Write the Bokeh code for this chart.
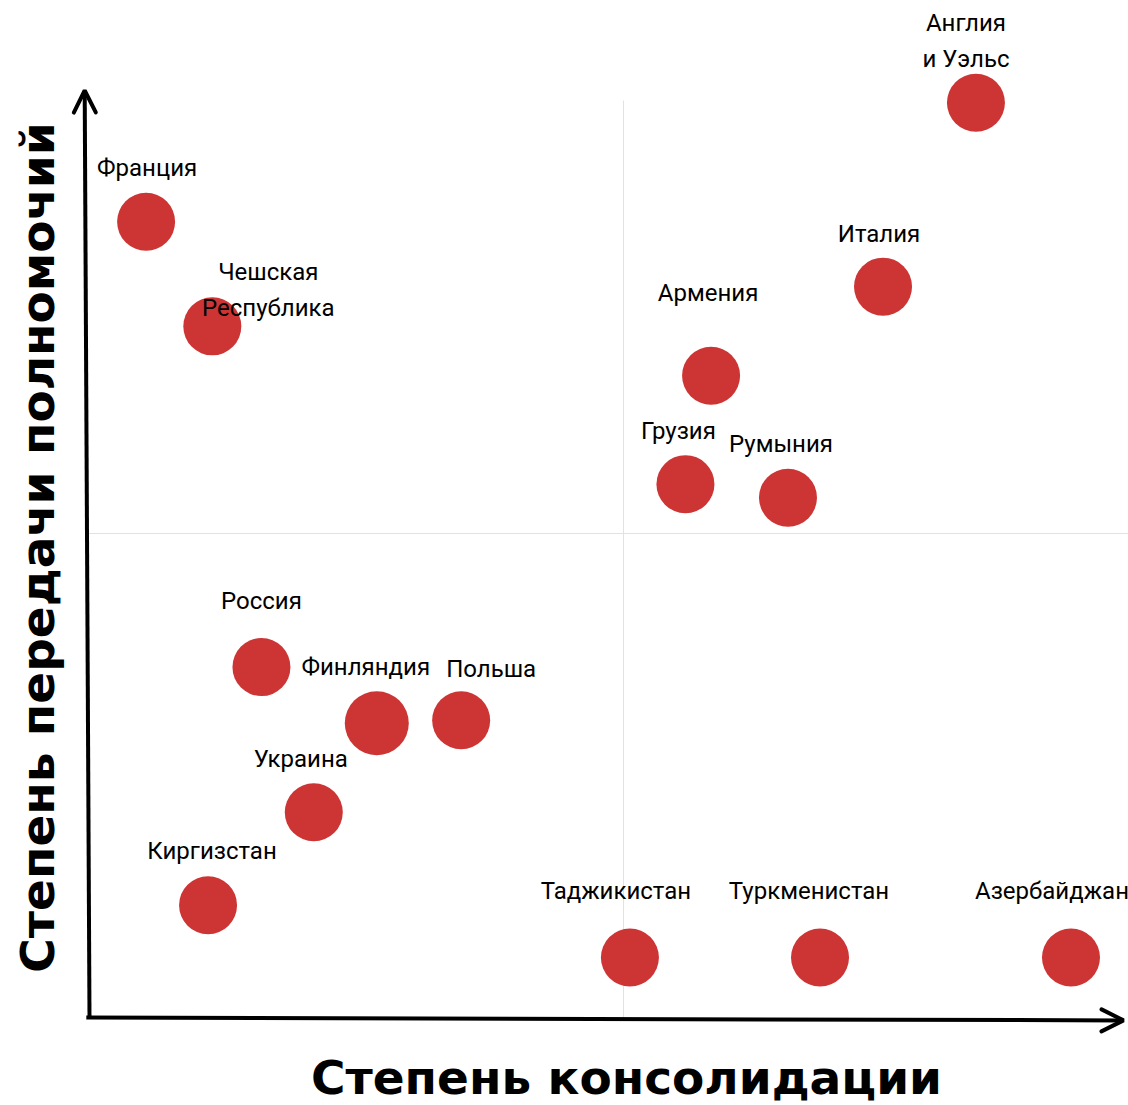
from bokeh.plotting import figure
from bokeh.models import Range1d, Arrow, OpenHead, ColumnDataSource
from bokeh.core.properties import value
from bokeh.embed import file_html
from bokeh.resources import INLINE

# ---- data (0-10 scales, midpoint 5) ----
countries = ["Англия\nи Уэльс", "Франция", "Чешская\nРеспублика", "Италия", "Армения",
             "Грузия", "Румыния", "Россия", "Финляндия", "Польша", "Украина",
             "Киргизстан", "Таджикистан", "Туркменистан", "Азербайджан"]
consolidation = [8.30, 0.53, 1.15, 7.43, 5.82, 5.58, 6.54, 1.61, 2.69, 3.48, 2.10,
                 1.11, 5.06, 6.84, 9.19]
devolution = [9.45, 8.22, 7.14, 7.55, 6.63, 5.51, 5.37, 3.62, 3.04, 3.07, 2.12,
              1.16, 0.62, 0.62, 0.62]
x_title = "Степень консолидации"
y_title = "Степень передачи полномочий"

# ---- layout ----
W, H = 1128, 1105
PX_X, PX_Y = 106.8, 96.8          # pixels per data unit
X0 = -89 / PX_X
Y1 = 1017 / PX_Y
X1 = X0 + W / PX_X
Y0 = Y1 - H / PX_Y
MID = 5.0

# label offsets (pixels, first line centre relative to the point centre)
label_offsets = {
    "Англия\nи Уэльс": (-10, -80), "Франция": (1, -54), "Чешская\nРеспублика": (56, -54),
    "Италия": (-4, -53), "Армения": (-3, -83), "Грузия": (-7, -53), "Румыния": (-7, -54),
    "Россия": (0, -66), "Финляндия": (-11, -56), "Польша": (30, -51), "Украина": (-13, -53),
    "Киргизстан": (4, -54), "Таджикистан": (-14, -66), "Туркменистан": (-11, -66),
    "Азербайджан": (-19, -66),
}
LINE_H = 36
big = {"Финляндия": 64}

p = figure(width=W, height=H, x_range=Range1d(X0, X1), y_range=Range1d(Y0, Y1),
           x_axis_type=None, y_axis_type=None, output_backend="svg",
           toolbar_location=None, min_border=0)
p.grid.visible = False
p.outline_line_color = None
p.background_fill_color = "white"
p.border_fill_color = "white"

# grid lines through the midpoint
p.segment(x0=[MID], y0=[-0.03], x1=[MID], y1=[(1017 - 100) / PX_Y],
          line_color="#e2e2e2", line_width=1)
p.segment(x0=[-0.04], y0=[MID], x1=[X1], y1=[MID],
          line_color="#e2e2e2", line_width=1)

# points
sizes = [big.get(c, 58) for c in countries]
src = ColumnDataSource(dict(x=consolidation, y=devolution, s=sizes))
p.scatter("x", "y", size="s", source=src, fill_color="#cd3434", line_color=None)

# labels
lx, ly, lt = [], [], []
for c, x, y in zip(countries, consolidation, devolution):
    dx, dy = label_offsets[c]
    for i, line in enumerate(c.split("\n")):
        lx.append(x + dx / PX_X)
        ly.append(y - (dy + i * LINE_H) / PX_Y)
        lt.append(line)
p.text(x=lx, y=ly, text=lt, text_font=value("Roboto"),
       text_font_size="24px", text_align="center", text_baseline="middle",
       text_color="black")

# axes arrows
p.add_layout(Arrow(x_start=0.0, y_start=0.0, x_end=-0.045, y_end=(1017 - 90) / PX_Y,
                   line_width=4, line_color="black",
                   end=OpenHead(size=22, line_width=4, line_color="black", line_cap="round")))
p.add_layout(Arrow(x_start=-0.03, y_start=0.0, x_end=(1123 - 89) / PX_X, y_end=-0.03,
                   line_width=4, line_color="black",
                   end=OpenHead(size=22, line_width=4, line_color="black", line_cap="round")))

# axis titles
p.text(x=[(626 - 89) / PX_X], y=[(1017 - 1077) / PX_Y], text=[x_title],
       text_font=value("DejaVu Sans"), text_font_style="bold", text_font_size="47px",
       text_align="center", text_baseline="middle", text_color="black")
p.text(x=[(37 - 89) / PX_X], y=[(1017 - 547) / PX_Y], text=[y_title],
       text_font=value("DejaVu Sans"), text_font_style="bold", text_font_size="47px",
       text_align="center", text_baseline="middle", text_color="black", angle=1.5708)

open("out.html", "w").write(file_html(p, INLINE))
